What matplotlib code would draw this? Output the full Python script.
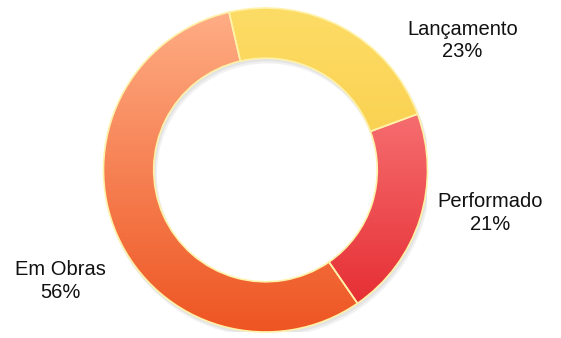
#!/usr/bin/env python3
"""Donut chart: distribuicao por fase (Lancamento / Performado / Em Obras)."""

import matplotlib

matplotlib.use("Agg")
import matplotlib.pyplot as plt
import numpy as np
from matplotlib.colors import LinearSegmentedColormap
from matplotlib.patches import Wedge

plt.rcParams["font.family"] = ["Liberation Sans", "DejaVu Sans"]

labels = ["Lançamento", "Performado", "Em Obras"]
shares = [23, 21, 56]
# (top colour, bottom colour) for the glossy gradient of each slice
grad_colors = [("#FDDC66", "#F6C232"), ("#FF9090", "#E3262C"), ("#FFAE86", "#EE5522")]
label_xy = [(1.216, 0.80), (1.389, -0.265), (-1.265, -0.685)]


def main() -> None:
    W, H = 561, 338
    cx, cy, R = 265.5, 170, 162
    fig = plt.figure(figsize=(W / 100, H / 100), dpi=100)
    ax = fig.add_axes([(cx - R) / W, (H - cy - R) / H, 2 * R / W, 2 * R / H])

    wedges, _ = ax.pie(
        shares,
        startangle=103,
        counterclock=False,
        radius=1.0,
        wedgeprops=dict(width=0.31, facecolor="none", edgecolor="#FFF2A8",
                        linewidth=1.2, zorder=3),
    )

    # soft shadow under the ring
    for off, a in [(0.025, 0.08), (0.015, 0.08)]:
        ax.add_patch(Wedge((off * 0.5, -off), 1.0 + off * 0.3, 0, 360,
                           width=0.31 + off * 0.6, facecolor="#555555",
                           edgecolor="none", alpha=a, zorder=1))

    grad = np.linspace(0, 1, 256).reshape(-1, 1)
    for w, (top, bot) in zip(wedges, grad_colors):
        cmap = LinearSegmentedColormap.from_list("g", [top, bot])
        im = ax.imshow(grad, cmap=cmap, extent=(-1, 1, -1, 1), origin="upper",
                       aspect="auto", zorder=2, interpolation="bilinear")
        im.set_clip_path(w)

    for lab, pct, (x, y) in zip(labels, shares, label_xy):
        ax.text(x, y, f"{lab}\n{pct}%", ha="center", va="center", fontsize=14.5,
                linespacing=1.25, color="#111111", clip_on=False)

    ax.set_xlim(-1, 1)
    ax.set_ylim(-1, 1)
    ax.set_aspect("auto")
    ax.axis("off")
    fig.savefig("out.png", dpi=100)


if __name__ == "__main__":
    main()
